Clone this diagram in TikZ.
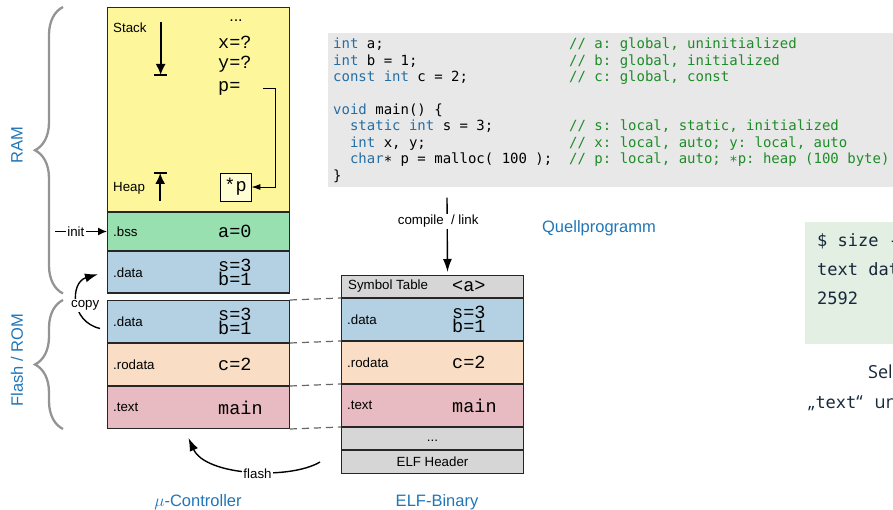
\documentclass[tikz,border=0pt]{standalone}
\usepackage{fontspec}
\setmainfont{Liberation Sans}
\newfontfamily\valfont{Liberation Mono}
\newfontfamily\codefont{DejaVu Sans Mono}
\newfontfamily\notefont{Open Sans}
\usepackage{tikz}
\usetikzlibrary{positioning, arrows.meta, decorations.pathreplacing}
\definecolor{ramyellow}{RGB}{253,246,155}
\definecolor{heapyellow}{RGB}{255,253,210}
\definecolor{bssgreen}{RGB}{152,224,176}
\definecolor{datablue}{RGB}{180,209,227}
\definecolor{rodpeach}{RGB}{249,222,197}
\definecolor{textpink}{RGB}{232,186,193}
\definecolor{elfgray}{RGB}{214,214,214}
\definecolor{codegray}{RGB}{232,232,232}
\definecolor{sizegreen}{RGB}{227,239,227}
\definecolor{capblue}{RGB}{33,118,183}
\definecolor{kwblue}{RGB}{36,110,165}
\definecolor{cmtgreen}{RGB}{30,140,40}
\definecolor{notenavy}{RGB}{22,40,58}
\newcommand{\kw}[1]{\textcolor{kwblue}{#1}}
\newcommand{\codeln}[2]{\makebox[236pt][l]{#1}\textcolor{cmtgreen}{#2}}
% fixed word space for the mono code font
\newcommand{\monospace}[1]{\spaceskip=#1\relax\xspaceskip=#1\relax}
\tikzstyle{memseg}   = [rectangle, draw=black!85, line width=1pt, minimum width=182pt,
                        inner sep=0pt]
\tikzstyle{seclbl}   = [inner sep=0pt, font=\fontsize{13.3}{15}\selectfont]
\tikzstyle{valtxt}   = [inner sep=0pt, align=left, font=\valfont\fontsize{18.5}{14}\selectfont]
\tikzstyle{bluecap}  = [inner sep=0pt, text=capblue, font=\fontsize{16.5}{18}\selectfont]
\tikzstyle{tagtxt}   = [fill=white, inner sep=1.5pt, font=\fontsize{13.3}{15}\selectfont]
\tikzstyle{heapbox}  = [rectangle, draw=black, line width=0.8pt, fill=heapyellow,
                        minimum width=31pt, minimum height=28pt, inner sep=0pt,
                        font=\valfont\fontsize{18.5}{20}\selectfont]
\tikzstyle{codebox}  = [rectangle, fill=codegray, anchor=north west, align=left,
                        text width=590pt, inner xsep=5pt, inner ysep=5pt,
                        font=\codefont\fontsize{14}{16.4}\selectfont]
\tikzstyle{arrow}    = [line width=1.4pt, -{Latex[length=13pt,width=9pt]}]
\tikzstyle{initarrow}= [line width=1.4pt, -{Latex[length=9pt,width=8pt]}]
\tikzstyle{growarrow}= [line width=1.8pt, -{Latex[length=11pt,width=10pt]}]
\tikzstyle{growbar}  = [line width=2pt]
\tikzstyle{ptrarrow} = [line width=0.9pt, -{Latex[length=9pt,width=6pt]}]
\tikzstyle{dashlink} = [black!60, line width=1.2pt, dash pattern=on 7pt off 5pt]
\tikzstyle{membrace} = [black!42, line width=2.3pt, decorate,
                        decoration={brace, amplitude=28pt}]

\begin{document}
\begin{tikzpicture}[x=1pt, y=-1pt]
\useasboundingbox (0,0) rectangle (893,510);

% mu-controller: RAM and flash
\node (stack) [memseg, fill=ramyellow, minimum height=204pt, anchor=north west] at (107,7) {};
\node (bss)   [memseg, fill=bssgreen,  minimum height=38pt,   below=0pt of stack] {};
\node (rdata) [memseg, fill=datablue,  minimum height=41.5pt, below=0pt of bss]   {};
\node (fdata) [memseg, fill=datablue,  minimum height=42pt,   below=6.5pt of rdata] {};
\node (frod)  [memseg, fill=rodpeach,  minimum height=42pt,   below=0pt of fdata] {};
\node (ftext) [memseg, fill=textpink,  minimum height=42pt,   below=0pt of frod]  {};

\node (stacklbl) [seclbl, right=6pt of stack.north west, yshift=-21pt] {Stack};
\node (heaplbl)  [seclbl, right=6pt of stack.south west, yshift=24pt]  {Heap};
\node (sdots) [seclbl, font=\fontsize{16}{16}\selectfont] at ([xshift=129pt, yshift=-14pt]stack.north west) {...};
\node (xval)  [valtxt, anchor=west] at ([xshift=111pt, yshift=-35pt]stack.north west) {x=?};
\node (yval)  [valtxt, anchor=west] at ([yshift=-22pt]xval.west) {y=?};
\node (pval)  [valtxt, anchor=west] at ([yshift=-24pt]yval.west) {p=};
\node (heapobj) [heapbox] at ([xshift=128.5pt, yshift=25pt]stack.south west) {*p};

\node (bsslbl)   [seclbl, right=6pt of bss.west]     {.bss};
\node (bssval)   [valtxt, right=111pt of bss.west]   {a=0};
\node (rdatalbl) [seclbl, right=6pt of rdata.west]   {.data};
\node (rdataval) [valtxt, right=111pt of rdata.west] {s=3\\b=1};
\node (fdatalbl) [seclbl, right=6pt of fdata.west]   {.data};
\node (fdataval) [valtxt, right=111pt of fdata.west] {s=3\\b=1};
\node (frodlbl)  [seclbl, right=6pt of frod.west]    {.rodata};
\node (frodval)  [valtxt, right=111pt of frod.west]  {c=2};
\node (ftextlbl) [seclbl, right=6pt of ftext.west]   {.text};
\node (ftextval) [valtxt, right=111pt of ftext.west] {main};

% ELF binary
\node (esym)  [memseg, fill=elfgray,  minimum height=22pt, anchor=north west] at (341,275) {};
\node (edata) [memseg, fill=datablue, minimum height=42pt, below=0pt of esym]  {};
\node (erod)  [memseg, fill=rodpeach, minimum height=42pt, below=0pt of edata] {};
\node (etext) [memseg, fill=textpink, minimum height=42pt, below=0pt of erod]  {};
\node (edots) [memseg, fill=elfgray,  minimum height=22pt, below=0pt of etext] {};
\node (ehdr)  [memseg, fill=elfgray,  minimum height=23pt, below=0pt of edots] {};

\node (esymlbl)  [seclbl, right=7pt of esym.west]    {Symbol Table};
\node (esymval)  [valtxt, right=111pt of esym.west]  {<a>};
\node (edatalbl) [seclbl, right=6pt of edata.west]   {.data};
\node (edataval) [valtxt, right=111pt of edata.west] {s=3\\b=1};
\node (erodlbl)  [seclbl, right=6pt of erod.west]    {.rodata};
\node (erodval)  [valtxt, right=111pt of erod.west]  {c=2};
\node (etextlbl) [seclbl, right=6pt of etext.west]   {.text};
\node (etextval) [valtxt, right=111pt of etext.west] {main};
\node (edotslbl) [seclbl, yshift=-2pt] at (edots) {...};
\node (ehdrlbl)  [seclbl] at (ehdr) {ELF Header};

% source program
\node (code) [codebox] at (328,33) {\monospace{8.43pt}%
\codeln{\kw{int} a;}{// a: global, uninitialized}\\
\codeln{\kw{int} b = 1;}{// b: global, initialized}\\
\codeln{\kw{const} \kw{int} c = 2;}{// c: global, const}\\[16.4pt]
\codeln{\kw{void} main() \{}{}\\
\codeln{\phantom{xx}\kw{static} \kw{int} s = 3;}{// s: local, static, initialized}\\
\codeln{\phantom{xx}\kw{int} x, y;}{// x: local, auto; y: local, auto}\\
\codeln{\phantom{xx}\kw{char}∗ p = malloc( 100 );}{// p: local, auto; ∗p: heap (100 byte)}\\
\codeln{\}}{}};

\node (sizebox) [rectangle, fill=sizegreen, anchor=north west, minimum width=150pt,
                 minimum height=122pt] at (805,222) {};
\node (sizetxt) [anchor=north west, inner sep=0pt, align=left, text=notenavy,
                 font=\codefont\fontsize{17}{29}\selectfont]
                 at ([xshift=12pt, yshift=-11pt]sizebox.north west) {\monospace{10.23pt}\$ size -\\text data\\2592};
\node (notea) [anchor=west, inner sep=0pt, text=notenavy, font=\notefont\fontsize{18}{20}\selectfont] at (868,372) {Sel};
\node (noteb) [anchor=west, inner sep=0pt, text=notenavy, font=\notefont\fontsize{18}{20}\selectfont] at (808,403) {„{\codefont\fontsize{17}{20}\selectfont text}“\hspace{12pt}und};

% captions
\node (ramcap)   [bluecap, rotate=90] at (17,145) {RAM};
\node (flashcap) [bluecap, rotate=90] at (17,360) {Flash / ROM};
\node (mcucap)   [bluecap] at (198,502) {$\mu$-Controller};
\node (elfcap)   [bluecap] at (437,502) {ELF-Binary};
\node (srccap)   [bluecap] at (599,228) {Quellprogramm};

% braces
\draw [membrace] ([xshift=-44pt]rdata.south west) -- ([xshift=-44pt]stack.north west);
\draw [membrace] ([xshift=-44pt]ftext.south west) -- ([xshift=-44pt]fdata.north west);

% connectors
\coordinate (cstart) at ([xshift=119pt, yshift=-10pt]code.south west);
\coordinate (cpfrom) at ([xshift=-7pt, yshift=-7pt]fdata.west);
\coordinate (cpto)   at ([xshift=-9pt, yshift=-2pt]rdata.west);
\coordinate (flfrom) at ([xshift=-21pt]ehdr.west);
\coordinate (flto)   at ([xshift=-10pt, yshift=-9pt]ftext.south);

\draw [growarrow] ([xshift=14pt, yshift=6pt]stacklbl.east) -- ++(0,53) coordinate (stackend);
\draw [growbar] ([xshift=-6.5pt]stackend) -- ([xshift=6.5pt]stackend);
\draw [growarrow] ([xshift=15pt, yshift=-13pt]heaplbl.east) -- ++(0,-28) coordinate (heapend);
\draw [growbar] ([xshift=-6.5pt]heapend) -- ([xshift=6.5pt]heapend);
\draw [ptrarrow]  ([xshift=22pt]pval.east) -| ([xshift=24pt]heapobj.east) -- (heapobj.east);
\draw [initarrow] ([xshift=-52pt]bss.west) -- node[tagtxt, pos=0.4]{init} (bss.west);
\draw [arrow] (cpfrom) .. controls +(-30,-7) and +(-28,8) .. (cpto)
      node[tagtxt, pos=0.5, xshift=8pt, yshift=-4pt] {copy};
\draw [arrow] (flfrom) .. controls +(-30,18) and +(17,38) .. (flto)
      node[tagtxt, pos=0.45, yshift=-2pt] {flash};
\draw [arrow] (cstart) -- node[tagtxt, pos=0.32, xshift=-9pt]{compile\ \ / link}
      ([xshift=15pt, yshift=3pt]esym.north);
\draw [dashlink] (fdata.north east) -- (edata.north west);
\draw [dashlink] (fdata.south east) -- (edata.south west);
\draw [dashlink] (frod.south east)  -- (erod.south west);
\draw [dashlink] (ftext.south east) -- (etext.south west);
\end{tikzpicture}
\end{document}
